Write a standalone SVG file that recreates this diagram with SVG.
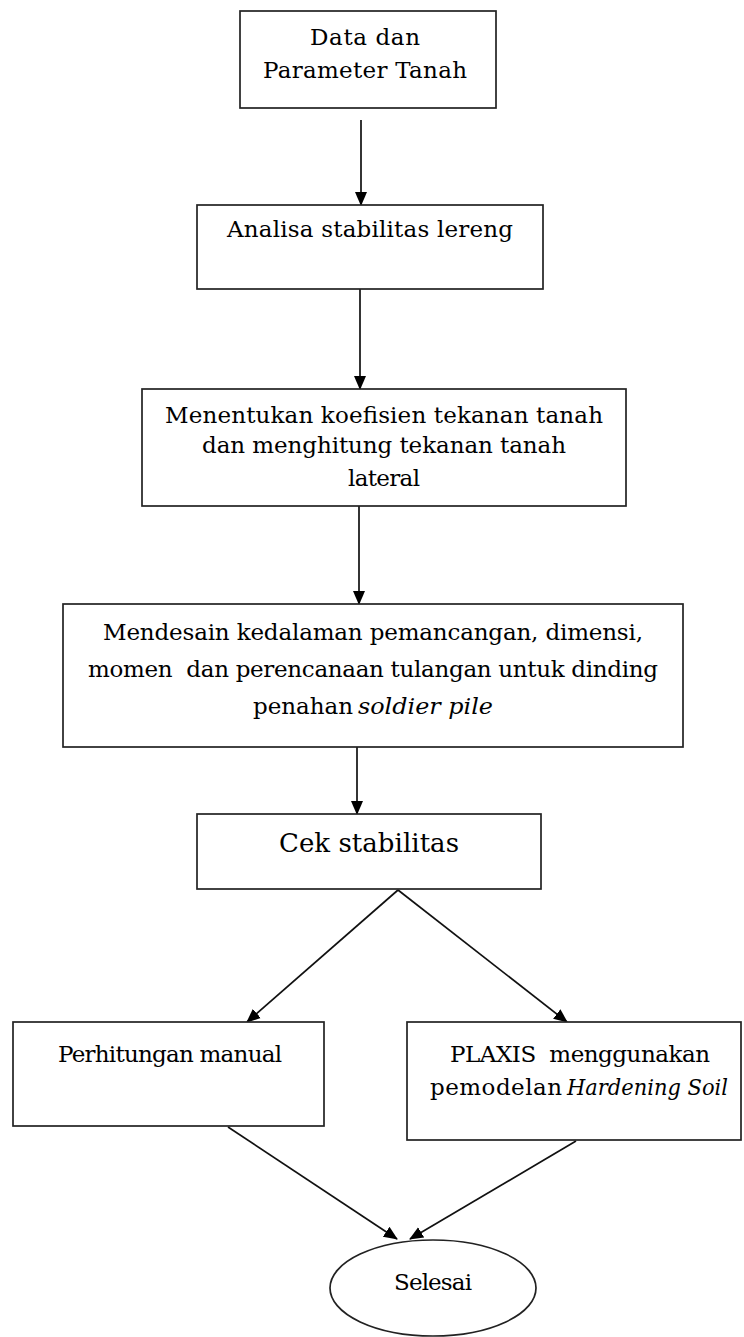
<svg xmlns="http://www.w3.org/2000/svg" width="744" height="1337" viewBox="0 0 744 1337">
<style>
.box{fill:#fff;stroke:#222;stroke-width:1.7}
.t{font-family:"DejaVu Serif","Liberation Serif",serif;font-size:23px;fill:#000}
.big{font-size:26px}
.c{text-anchor:middle}
.i{font-style:italic}
.ln{stroke:#111;stroke-width:1.7;fill:none;marker-end:url(#ah)}
</style>
<defs>
<marker id="ah" markerUnits="userSpaceOnUse" markerWidth="14" markerHeight="14" viewBox="0 0 14 14" refX="13" refY="7" orient="auto">
<path d="M0,1 L14,7 L0,13 Z" fill="#000"/>
</marker>
</defs>
<rect width="744" height="1337" fill="#fff"/>
<g id="connectors">
<line class="ln" x1="361" y1="120" x2="361" y2="205"/>
<line class="ln" x1="360" y1="289" x2="360" y2="389"/>
<line class="ln" x1="359" y1="506" x2="359" y2="604"/>
<line class="ln" x1="357" y1="747" x2="357" y2="814"/>
<line class="ln" x1="398" y1="890" x2="247" y2="1022"/>
<line class="ln" x1="398" y1="890" x2="567" y2="1022"/>
<line class="ln" x1="228" y1="1127" x2="397" y2="1239"/>
<line class="ln" x1="576" y1="1141" x2="410" y2="1239"/>
</g>
<g id="n1">
<rect class="box" x="240" y="11" width="256" height="97"/>
<text class="t c" x="365" y="45" textLength="110">Data dan</text>
<text class="t c" x="365" y="78" textLength="204">Parameter Tanah</text>
</g>
<g id="n2">
<rect class="box" x="197" y="205" width="346" height="84"/>
<text class="t c" x="370" y="237" textLength="286">Analisa stabilitas lereng</text>
</g>
<g id="n3">
<rect class="box" x="142" y="389" width="484" height="117"/>
<text class="t c" x="384" y="423" textLength="438">Menentukan koefisien tekanan tanah</text>
<text class="t c" x="384" y="453" textLength="364">dan menghitung tekanan tanah</text>
<text class="t c" x="384" y="486" textLength="72">lateral</text>
</g>
<g id="n4">
<rect class="box" x="63" y="604" width="620" height="143"/>
<text class="t c" x="373" y="640" textLength="540">Mendesain kedalaman pemancangan, dimensi,</text>
<text class="t c" x="373" y="677" textLength="570" xml:space="preserve">momen  dan perencanaan tulangan untuk dinding</text>
<text class="t" x="253" y="714" textLength="100">penahan</text>
<text class="t i" x="358" y="714" textLength="135" lengthAdjust="spacingAndGlyphs">soldier pile</text>
</g>
<g id="n5">
<rect class="box" x="197" y="814" width="344" height="75"/>
<text class="t big c" x="369" y="852" textLength="180">Cek stabilitas</text>
</g>
<g id="n6">
<rect class="box" x="13" y="1022" width="311" height="104"/>
<text class="t c" x="170" y="1062" textLength="224">Perhitungan manual</text>
</g>
<g id="n7">
<rect class="box" x="407" y="1022" width="334" height="118"/>
<text class="t c" x="580" y="1062" textLength="260" xml:space="preserve">PLAXIS  menggunakan</text>
<text class="t" x="430" y="1095" textLength="132">pemodelan</text>
<text class="t i" x="567" y="1095" textLength="161" lengthAdjust="spacingAndGlyphs">Hardening Soil</text>
</g>
<g id="n8">
<ellipse class="box" cx="433" cy="1288" rx="103" ry="48"/>
<text class="t c" x="433" y="1290" textLength="78">Selesai</text>
</g>
</svg>
